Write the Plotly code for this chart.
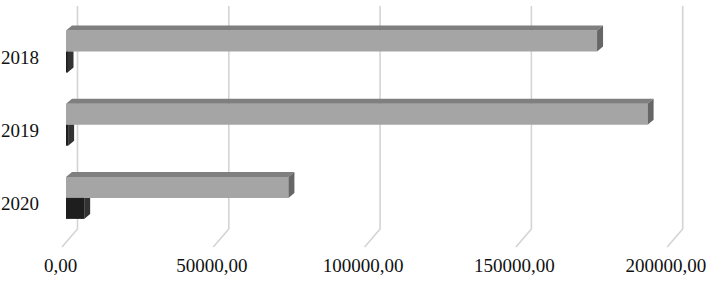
import plotly.graph_objects as go

# ---- data ----
years = ["2018", "2019", "2020"]
series_gray = [175500, 192200, 73500]
series_black = [500, 700, 6000]
tick_values = [0, 50000, 100000, 150000, 200000]
tick_labels = ["0,00", "50000,00", "100000,00", "150000,00", "200000,00"]

# ---- style / geometry constants ----
K = 151.3 / 50000.0          # px per value unit
X0_PX, L_MARGIN, W, H = 66, 40, 707, 282
B_MARGIN = 32
PLOT_H = H - B_MARGIN
Y0_PX, Y_STEP = 51.5, 73.2
BAR_H = 21 / Y_STEP
DX = 6 / K                   # 3D depth, x
DY = 5 / Y_STEP              # 3D depth, y
GRID_BACK = 11.5 / K
GRID_FRONT = -4.0 / K
GRID_TOP = (6 - Y0_PX) / Y_STEP
GRID_FLOOR = (229 - Y0_PX) / Y_STEP
GRID_FRONT_Y = (247 - Y0_PX) / Y_STEP

x_range = [(L_MARGIN - X0_PX) / K, (W - X0_PX) / K]
y_range = [(PLOT_H - Y0_PX) / Y_STEP, -Y0_PX / Y_STEP]

pos = list(range(len(years)))

fig = go.Figure()

# front faces
fig.add_trace(go.Bar(y=pos, x=series_gray, orientation="h", width=BAR_H, offset=-BAR_H,
                     marker=dict(color="#a5a5a5", line=dict(width=0)), showlegend=False,
                     hoverinfo="skip"))
fig.add_trace(go.Bar(y=pos, x=series_black, orientation="h", width=BAR_H, offset=0,
                     marker=dict(color="#1e1e1e", line=dict(width=0)), showlegend=False,
                     hoverinfo="skip"))

def poly(xs, ys, color):
    fig.add_trace(go.Scatter(x=xs + [xs[0]], y=ys + [ys[0]], mode="lines", fill="toself",
                             fillcolor=color, line=dict(width=0, color=color),
                             showlegend=False, hoverinfo="skip"))

for p, g, b in zip(pos, series_gray, series_black):
    top = p - BAR_H
    # gray top face
    poly([0, g, g + DX, DX], [top, top, top - DY, top - DY], "#7f7f7f")
    # gray side face
    poly([g, g + DX, g + DX, g], [top, top - DY, p - DY, p], "#666666")
    # black side face (top part hidden behind the gray bar)
    poly([b, b + DX, b + DX, b], [p, p, p + BAR_H - DY, p + BAR_H], "#333333")

# slanted 3D gridlines (behind bars)
shapes = []
for v in tick_values:
    path = (f"M {v + GRID_BACK},{GRID_TOP} L {v + GRID_BACK},{GRID_FLOOR} "
            f"L {v + GRID_FRONT},{GRID_FRONT_Y}")
    shapes.append(dict(type="path", path=path, xref="x", yref="y", layer="below",
                       line=dict(color="#d4d4d4", width=1.6)))

fig.update_layout(
    width=W, height=H,
    margin=dict(l=L_MARGIN, r=0, t=0, b=B_MARGIN, autoexpand=False),
    plot_bgcolor="white", paper_bgcolor="white",
    barmode="overlay",
    shapes=shapes,
    font=dict(family="Liberation Serif, Times New Roman, serif", size=19, color="#111111"),
    xaxis=dict(range=x_range, showgrid=False, zeroline=False, showline=False,
               tickvals=[v - 1800 for v in tick_values], ticktext=tick_labels,
               ticks="", ticklabelstandoff=2, fixedrange=True, automargin=False),
    yaxis=dict(range=y_range, showgrid=False, zeroline=False, showline=False,
               tickvals=[p + 0.08 for p in pos], ticktext=years, ticks="",
               ticklabelstandoff=0, fixedrange=True, automargin=False),
)

fig.write_html("out.html", config={"displayModeBar": False},
               post_script="document.body.style.margin='0px';document.body.style.overflow='hidden';")
